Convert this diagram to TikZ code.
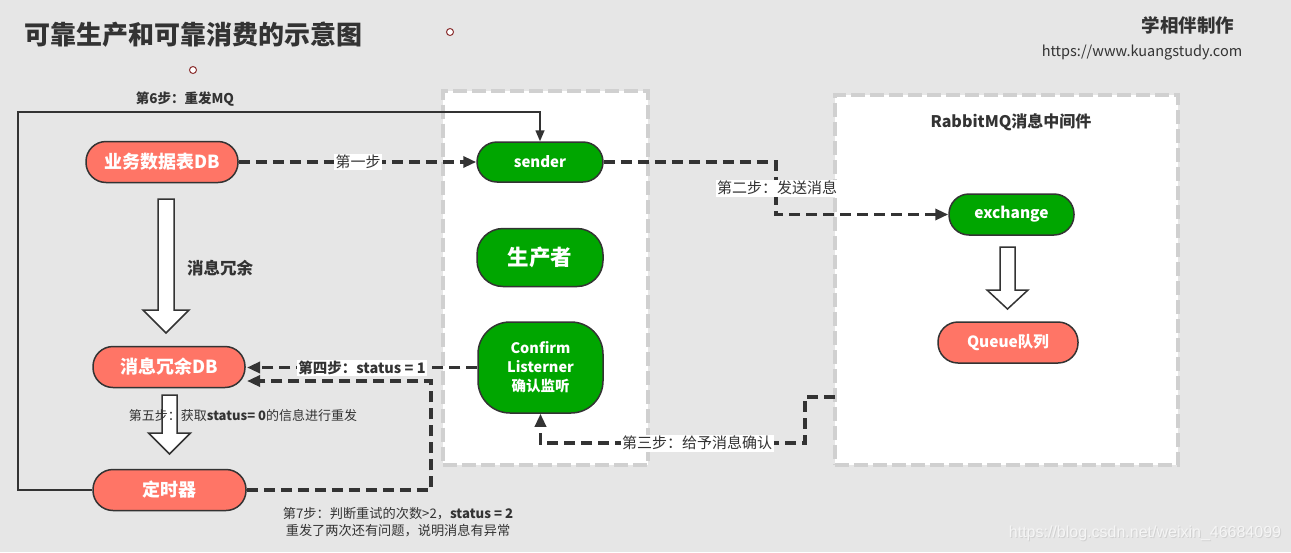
\documentclass[tikz,border=0pt]{standalone}
\usepackage{fontspec}
\setmainfont{Noto Sans CJK SC}
\newfontfamily\wmfont{Liberation Sans}
\usetikzlibrary{arrows.meta,calc}
\definecolor{bgc}{HTML}{E6E6E6}
\definecolor{salmon}{HTML}{FF7566}
\definecolor{grn}{HTML}{00A600}
\definecolor{ink}{HTML}{333333}
\definecolor{boxline}{HTML}{D0D0D0}
\definecolor{handle}{HTML}{8B3030}
\newcommand\fsz[1]{\fontsize{#1}{#1}\selectfont}
\newcommand\harrow[6]{%
  \draw[hollowarrow] ({#1-#5},#2) -- ({#1+#5},#2) -- ({#1+#5},#3) -- ({#1+#6},#3)
    -- (#1,#4) -- ({#1-#6},#3) -- ({#1-#5},#3) -- cycle;}
\tikzset{
  pill/.style={draw=ink, line width=1.5pt, rounded corners=20pt, text=white,
    font=\bfseries\fsz{18}, minimum height=41pt, inner sep=0pt},
  redpill/.style={pill, fill=salmon},
  greenpill/.style={pill, fill=grn},
  container/.style={draw=boxline, fill=white, line width=4pt, dash pattern=on 14pt off 5pt},
  dashconn/.style={draw=ink, line width=3.2pt, dash pattern=on 11pt off 6pt,
    -{Triangle[length=13pt,width=11pt]}},
  solidconn/.style={draw=ink, line width=1.5pt, -{Triangle[length=11pt,width=9pt]}},
  lbl/.style={fill=white, text=ink, inner sep=1.5pt, font=\fsz{15}},
  hollowarrow/.style={draw=ink, fill=white, line width=1.5pt, line join=miter},
  handlenode/.style={circle, draw=handle, fill=white, line width=1pt, minimum size=7pt, inner sep=0pt}
}
\begin{document}
\begin{tikzpicture}[x=1pt,y=-1pt]
\fill[bgc] (0,0) rectangle (1291,552);
\useasboundingbox (0,0) rectangle (1291,552);

% containers
\node[container, minimum width=205pt, minimum height=374pt] (prod) at (545.5,277.5) {};
\node[container, minimum width=343pt, minimum height=370pt] (mq) at (1006.5,280) {};

% title and header
\node[anchor=west, text=ink, font=\bfseries\fsz{26}, inner sep=0pt] (title) at (24,35) {可靠生产和可靠消费的示意图};
\node[text=ink, font=\bfseries\fsz{18.5}, inner sep=0pt] (author) at (1188,25) {学相伴制作};
\node[text=ink, font=\fsz{14.5}, inner sep=0pt] (url) at (1142,53) {https://www.kuangstudy.com};
\node[handlenode] (h1) at (450,32) {};
\node[handlenode] (h2) at (193,70) {};

% hollow arrows
\harrow{166}{199}{310}{333}{8}{23}
\harrow{169.5}{395}{433}{454}{7.5}{21}
\harrow{1007.5}{247}{290}{309}{7.5}{20.5}

% nodes
\node[redpill, minimum width=152pt] (biz) at (162,162) {业务数据表DB};
\node[redpill, minimum width=152pt] (mdb) at (169,367) {消息冗余DB};
\node[redpill, minimum width=153pt] (tim) at (169.5,490) {定时器};
\node[greenpill, minimum width=126pt, minimum height=40pt, font=\bfseries\fsz{15}] (send) at (540,162) {sender};
\node[greenpill, minimum width=126pt, minimum height=58pt, rounded corners=26pt, font=\bfseries\fsz{21.5}] (prodn) at (540,257.5) {生产者};
\node[greenpill, minimum width=125pt, minimum height=91pt, rounded corners=32pt, align=center,
  font=\bfseries\fontsize{14.5}{19}\selectfont] (conf) at (540.5,367.5) {Confirm\\Listerner\\确认监听};
\node[greenpill, minimum width=125pt, font=\bfseries\fsz{15.5}] (ex) at (1011.5,214.5) {exchange};
\node[redpill, minimum width=140pt, font=\bfseries\fsz{15.5}] (queue) at (1008,342.5) {Queue队列};
\node[text=ink, font=\bfseries\fsz{16}, inner sep=0pt] (mqt) at (1011,122) {RabbitMQ消息中间件};

% helper coordinates
\coordinate (k2) at (776,188);
\coordinate (s3) at (835,397);
\coordinate (k3) at (805,443);
\coordinate (k5) at (431,381);
\coordinate (k5e) at (247,381);
\coordinate (k4e) at (247,367.5);
\coordinate (k6) at (18,112);

% connectors
\draw[dashconn] (biz.east) -- (send.west);
\draw[dashconn] (send.east) -| (k2) |- (ex.west);
\draw[dashconn] (s3) -| (k3) -| (conf.south);
\draw[dashconn] (conf.west) -- (k4e);
\draw[dashconn] (tim.east) -| (k5) -- (k5e);
\draw[solidconn] (tim.west) -| (k6) -| (send.north);

% labels
\node[lbl] (l1) at (358,162) {第一步};
\node[lbl] (l2) at (777,188) {第二步：发送消息};
\node[lbl] (l3) at (697,443) {第三步：给予消息确认};
\node[lbl, font=\bfseries\fsz{14.5}] (l4) at (362,368) {第四步：status = 1};
\node[text=ink, font=\fsz{13}, inner sep=0pt] (l5) at (243,416) {第五步：获取{\bfseries status= 0}的信息进行重发};
\node[text=ink, font=\bfseries\fsz{13.5}, inner sep=0pt] (l6) at (185,99) {第6步：重发MQ};
\node[text=ink, align=center, font=\fontsize{13.2}{17}\selectfont, inner sep=0pt] (l7) at (398,522) {第7步：判断重试的次数>2，\textbf{status = 2}\\重发了两次还有问题，说明消息有异常};
\node[text=ink, font=\bfseries\fsz{16.5}, inner sep=0pt] (lr) at (220,268) {消息冗余};

% watermark
\node[text=black!18, font=\wmfont\fsz{16}, inner sep=0pt] (wm2) at (1146,534) {https://blog.csdn.net/weixin\_46684099};
\node[text=white!96!black, font=\wmfont\fsz{16}, inner sep=0pt] (wm) at (1145,533) {https://blog.csdn.net/weixin\_46684099};
\end{tikzpicture}
\end{document}
